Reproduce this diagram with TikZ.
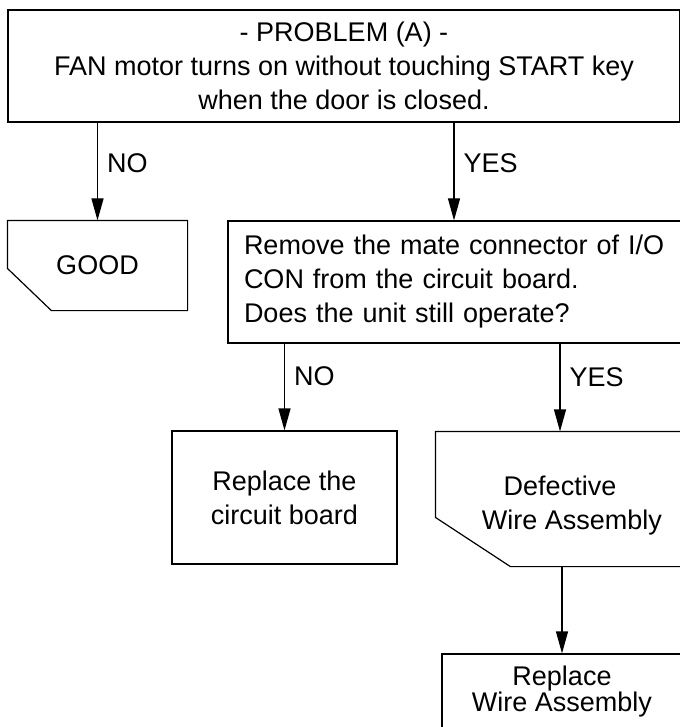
\documentclass[tikz,border=0pt]{standalone}
\usepackage{fontspec}
\setmainfont{Liberation Sans}
\usetikzlibrary{positioning,calc,arrows.meta}

\begin{document}
\begin{tikzpicture}[x=1pt,y=-1pt,line width=1.2pt,font=\fontsize{27}{34}\selectfont,
  box/.style={draw,rectangle,inner sep=0pt,align=center},
  cutbox/.style={rectangle,inner sep=0pt,align=center},
  flow/.style={-{Triangle[length=22pt,width=12pt]}},
  lbl/.style={right,inner sep=9pt}]
\useasboundingbox (0,0) rectangle (679,727);
\node[box,minimum width=672pt,minimum height=112pt] (prob) at (344,66) {- PROBLEM (A) -\\FAN motor turns on without touching START key\\when the door is closed.};
\node[cutbox,minimum width=179pt,minimum height=89pt] (good) at (97.5,265.5) {GOOD};
\draw (good.north west) -- (good.north east) -- (good.south east) -- ($(good.south west)+(44,0)$) -- ($(good.north west)+(0,48)$) -- cycle;
\node[box,align=left,text width=430pt,inner xsep=16pt,minimum height=122pt] (mate) at (459,282) {Remove the mate connector of I/O\\CON from the circuit board.\\Does the unit still operate?};
\node[box,minimum width=225pt,minimum height=133pt] (board) at (284.5,497.5) {Replace the\\circuit board};
\node[cutbox,minimum width=272pt,minimum height=134pt,text height=66pt] (defect) at (572,499) {Defective\hspace*{24pt}\\Wire Assembly};
\draw (defect.north west) -- (defect.north east) -- (defect.south east) -- ($(defect.south west)+(75,0)$) -- ($(defect.north west)+(0,86)$) -- cycle;
\node[box,minimum width=240pt,minimum height=76pt,font=\fontsize{27}{26}\selectfont] (wire) at (562,692) {Replace\\Wire Assembly};
% connectors
\draw[flow] (prob.south -| good.north) -- node[lbl,pos=0.42] {NO} (good.north);
\draw[flow] ($(prob.south -| mate.north)+(-5,0)$) -- node[lbl,pos=0.42] {YES} ($(mate.north)+(-5,0)$);
\draw[flow] (mate.south -| board.north) -- node[lbl,pos=0.38] {NO} (board.north);
\draw[flow] ($(mate.south -| defect.north)+(-12,0)$) -- node[lbl,pos=0.38] {YES} ($(defect.north)+(-12,0)$);
\draw[flow] ($(defect.south -| wire.north)$) -- (wire.north);
\end{tikzpicture}
\end{document}
